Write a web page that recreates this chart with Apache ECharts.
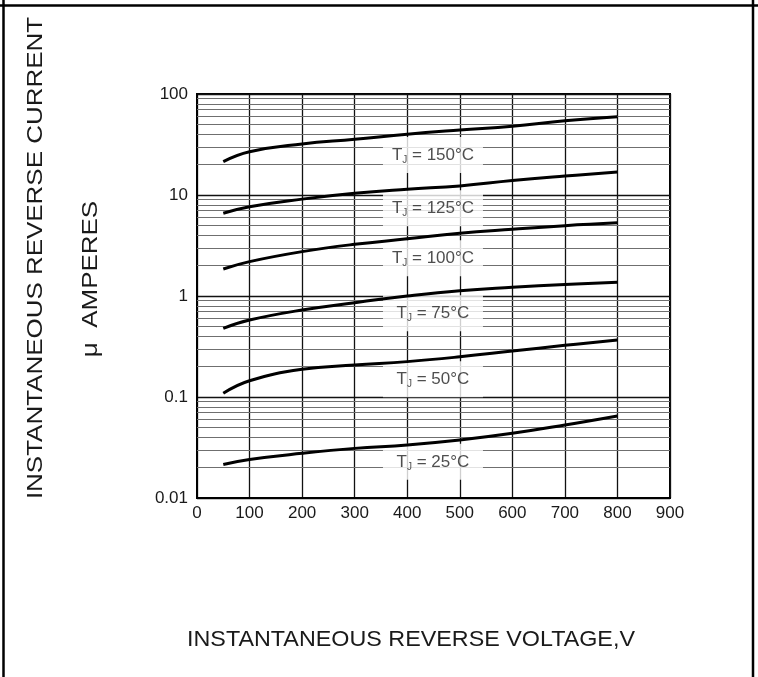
<!DOCTYPE html>
<html>
<head>
<meta charset="utf-8">
<script src="https://cdn.jsdelivr.net/npm/echarts@6/dist/echarts.min.js"></script>
<style>html,body{margin:0;padding:0;background:#fff}#c{width:758px;height:677px}</style>
</head>
<body>
<div id="c"></div>
<script>
// ---- data ----
var voltages = [50, 100, 200, 300, 400, 500, 600, 700, 800];
var tj150 = [21.4, 26.8, 32, 35.6, 40, 44, 48, 54.4, 59.6];
var tj125 = [6.6, 7.66, 9.1, 10.4, 11.4, 12.3, 13.9, 15.4, 16.9];
var tj100 = [1.85, 2.19, 2.75, 3.25, 3.68, 4.17, 4.57, 4.97, 5.3];
var tj75  = [0.479, 0.578, 0.727, 0.859, 1.0, 1.13, 1.22, 1.30, 1.37];
var tj50  = [0.109, 0.145, 0.188, 0.207, 0.224, 0.25, 0.285, 0.325, 0.367];
var tj25  = [0.0215, 0.0241, 0.0277, 0.031, 0.0335, 0.0375, 0.0437, 0.0528, 0.0649];
var seriesTemps = ['150', '125', '100', '75', '50', '25'];
var labelX = [449, 449, 449, 449, 449, 449];
var labelY = [24.9, 7.38, 2.36, 0.674, 0.150, 0.0228];
var xTicks = [0, 100, 200, 300, 400, 500, 600, 700, 800, 900];
var yTickLabels = ['0.01', '0.1', '1', '10', '100'];
var minorMultipliers = [2, 3, 4, 5, 6, 7, 8, 9];
var decades = [0.01, 0.1, 1, 10];
var yTitle = 'INSTANTANEOUS REVERSE CURRENT';
var yTitle2 = 'μ  AMPERES';
var xTitle = 'INSTANTANEOUS REVERSE VOLTAGE,V';

var curves = [tj150, tj125, tj100, tj75, tj50, tj25];
var minorLines = [];
decades.forEach(function (d) { minorMultipliers.forEach(function (m) { minorLines.push({ yAxis: d * m }); }); });

var FONT = '"Liberation Sans", Arial, Helvetica, sans-serif';

var series = [];
series.push({
  type: 'line', data: [], silent: true, z: 1,
  markLine: {
    silent: true, symbol: 'none', z: 1, animation: false,
    label: { show: false },
    lineStyle: { color: '#6f6f6f', width: 1, type: 'solid' },
    emphasis: { disabled: true },
    data: minorLines
  }
});
curves.forEach(function (arr) {
  series.push({
    type: 'line', smooth: 0.45, symbol: 'none', z: 5,
    lineStyle: { color: '#000', width: 3 },
    data: voltages.map(function (v, i) { return [v, arr[i]]; })
  });
});
series.push({
  type: 'scatter', symbolSize: 0, z: 4, silent: true,
  data: labelX.map(function (x, i) { return [x, labelY[i], seriesTemps[i]]; }),
  label: {
    show: true, position: 'inside',
    backgroundColor: '#fff',
    padding: [8, 8, 8, 8],
    width: 84, align: 'center',
    formatter: function (p) { return '{t|T}{s|J}{t| = ' + p.data[2] + '°C}'; },
    rich: {
      t: { fontSize: 17, fontFamily: FONT, color: '#222' },
      s: { fontSize: 10, fontFamily: FONT, color: '#222', padding: [10, 0, 0, 0] }
    }
  }
});

var chart = echarts.init(document.getElementById('c'), null, { renderer: 'canvas' });
chart.setOption({
  animation: false,
  backgroundColor: '#fff',
  grid: { left: 197, right: 88, top: 94, bottom: 179, show: true, borderColor: '#000', borderWidth: 2, backgroundColor: 'transparent' },
  xAxis: {
    type: 'value', min: xTicks[0], max: xTicks[xTicks.length - 1], interval: 100,
    axisLine: { show: true, lineStyle: { color: '#000', width: 2 } },
    axisTick: { show: false },
    axisLabel: { color: '#1a1a1a', fontSize: 17, fontFamily: FONT, margin: 7 },
    splitLine: { show: true, lineStyle: { color: '#111', width: 1.3 } }
  },
  yAxis: {
    type: 'log', logBase: 10, min: 0.01, max: 100,
    axisLine: { show: true, lineStyle: { color: '#000', width: 2 } },
    axisTick: { show: false },
    axisLabel: {
      color: '#1a1a1a', fontSize: 17, fontFamily: FONT, margin: 9,
      formatter: function (v) { return yTickLabels[Math.round(Math.log10(v)) + 2]; }
    },
    splitLine: { show: true, lineStyle: { color: '#111', width: 1.3 } }
  },
  series: series,
  graphic: [
    { type: 'line', shape: { x1: 3.5, y1: 0, x2: 3.5, y2: 677 }, style: { stroke: '#000', lineWidth: 2.5 } },
    { type: 'line', shape: { x1: 753, y1: 0, x2: 753, y2: 677 }, style: { stroke: '#000', lineWidth: 2.5 } },
    { type: 'line', shape: { x1: 0, y1: 5.5, x2: 758, y2: 5.5 }, style: { stroke: '#000', lineWidth: 2.5 } },
    { type: 'text', x: 36, y: 258, rotation: Math.PI / 2, scaleX: 1.18, scaleY: 1,
      style: { text: yTitle, fontSize: 22, fontFamily: FONT, fill: '#1a1a1a', align: 'center', verticalAlign: 'middle' } },
    { type: 'text', x: 91, y: 279, rotation: Math.PI / 2, scaleX: 1.18, scaleY: 1,
      style: { text: yTitle2, fontSize: 22, fontFamily: FONT, fill: '#1a1a1a', align: 'center', verticalAlign: 'middle' } },
    { type: 'text', x: 411, y: 640, scaleX: 1.06, scaleY: 1,
      style: { text: xTitle, fontSize: 22, fontFamily: FONT, fill: '#1a1a1a', align: 'center', verticalAlign: 'middle' } }
  ]
});
</script>
</body>
</html>
